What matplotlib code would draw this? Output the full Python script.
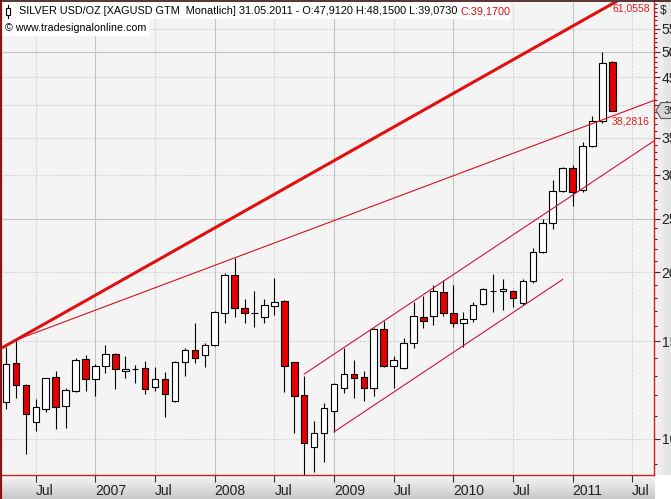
import numpy as np
import pandas as pd
import matplotlib
matplotlib.use('Agg')
import matplotlib.pyplot as plt
from matplotlib.patches import Rectangle, Polygon
from matplotlib.lines import Line2D
from matplotlib.colors import LinearSegmentedColormap
import matplotlib.transforms as mtrans
from matplotlib.ticker import FixedLocator, NullFormatter, FixedFormatter

# ---------------- data ----------------
months = pd.date_range('2006-04-01', periods=62, freq='MS')
opens = [11.66, 13.71, 12.52, 10.73, 11.32, 12.94, 11.47, 12.21, 13.94, 12.83,
         13.54, 14.24, 13.26, 13.38, 13.43, 12.41, 12.83, 11.71, 13.77, 14.48,
         14.18, 14.78, 16.88, 19.76, 17.24, 16.90, 16.60, 17.38, 17.75, 13.77,
         12.01, 9.67, 10.25, 11.23, 12.36, 13.10, 12.94, 12.36, 15.80, 13.54,
         13.43, 14.90, 16.60, 16.67, 18.42, 16.88, 16.20, 16.47, 17.53, 18.50,
         18.50, 18.50, 17.60, 19.28, 21.76, 24.54, 28.04, 30.85, 28.16, 33.81,
         37.50, 47.912]
highs = [14.66, 15.09, 12.57, 11.81, 12.90, 13.26, 12.35, 14.00, 14.18, 13.66,
         14.78, 14.30, 14.12, 13.60, 13.83, 13.49, 13.21, 13.83, 14.60, 16.20,
         14.90, 17.00, 19.95, 21.20, 17.90, 18.50, 17.90, 19.50, 17.80, 13.80,
         12.99, 10.78, 11.62, 12.62, 14.60, 13.89, 13.26, 15.85, 16.33, 14.12,
         15.22, 17.67, 18.12, 18.97, 19.36, 18.97, 16.96, 17.67, 18.73, 19.86,
         19.45, 18.55, 19.45, 22.12, 24.95, 29.35, 30.97, 31.23, 34.37, 38.28,
         49.95, 48.15]
lows = [11.32, 11.86, 9.40, 10.34, 11.19, 10.43, 10.47, 12.16, 12.21, 11.96,
        13.15, 12.31, 12.88, 12.62, 12.06, 12.21, 10.96, 11.66, 12.99, 13.71,
        13.49, 14.70, 16.20, 16.60, 16.20, 15.93, 16.20, 16.74, 12.16, 10.25,
        8.40, 8.72, 9.09, 10.30, 12.11, 11.86, 11.71, 11.98, 13.49, 12.36,
        13.38, 14.60, 15.86, 16.06, 16.67, 15.93, 14.66, 16.26, 17.46, 16.96,
        17.10, 17.31, 17.46, 19.12, 21.67, 23.93, 27.92, 26.34, 27.92, 33.67,
        37.19, 39.073]
closes = [13.66, 12.52, 11.09, 11.42, 12.88, 11.42, 12.26, 13.89, 12.83, 13.54,
          14.24, 13.38, 13.38, 13.40, 12.31, 12.83, 12.06, 13.77, 14.48, 14.00,
          14.78, 16.96, 19.76, 17.24, 16.88, 16.85, 17.46, 17.67, 13.54, 11.96,
          9.83, 10.25, 11.37, 12.57, 13.10, 12.88, 12.36, 15.80, 13.54, 13.89,
          14.90, 16.67, 16.33, 18.50, 16.88, 16.20, 16.47, 17.46, 18.65, 18.52,
          18.65, 17.97, 19.28, 21.76, 24.54, 28.04, 30.85, 27.92, 33.81, 37.50,
          47.72, 39.17]

y_major = [10, 15, 20, 25, 30, 35, 40, 45, 50, 55]
y_solid_grid = [25, 50]

trend_thick = [(1, 15.09), (61, 61.0558)]
trend_thin = [(1, 15.09), (61, 38.2816)]
chan_upper = [(30, 13.10), (61, 30.76)]
chan_lower = [(33, 10.30), (56, 19.41)]
label_thick = "61,0558"
label_thin = "38,2816"

title_head = "SILVER USD/OZ [XAGUSD GTM  Monatlich] 31.05.2011"
copyright_txt = "\u00a9 www.tradesignalonline.com"

# ---------------- layout helpers ----------------
W, H = 671, 499
def fx(x):
    return x / W
def fy(y):
    return 1 - y / H

FONT = ['Liberation Sans', 'DejaVu Sans']
NARROW = ['Liberation Sans Narrow', 'Liberation Sans', 'DejaVu Sans']
RED = '#e50000'

fig = plt.figure(figsize=(W / 100, H / 100), dpi=100)
fig.patch.set_facecolor('white')

# bottom strip gradient
axb = fig.add_axes([0, 0, fx(655), 24 / H])
axb.imshow(np.linspace(0, 1, 60).reshape(-1, 1),
           cmap=LinearSegmentedColormap.from_list('gb', ['#f7f7f7', '#c8c8c8']),
           aspect='auto', extent=[0, 1, 0, 1])
axb.axis('off')
# right strip gradient
axr = fig.add_axes([fx(655), 24 / H, 1 - fx(655), 1 - 24 / H])
axr.imshow(np.linspace(0, 1, 60).reshape(1, -1),
           cmap=LinearSegmentedColormap.from_list('gr', ['#f3f3f3', '#e2e2e2']),
           aspect='auto', extent=[0, 1, 0, 1])
axr.axis('off')

ax = fig.add_axes([fx(2), 24 / H, 652 / W, 473 / H])
ax.set_zorder(3)
ax.set_facecolor('#f4f4f4')
ax.set_yscale('log')
ax.set_ylim(8.61, 61.5)
xmin, xmax = -0.40, 65.19
ax.set_xlim(xmin, xmax)

# grid
all_months = pd.date_range(months[0], periods=67, freq='MS')
xt, xl = [], []
for i, d in enumerate(all_months):
    if xmin <= i <= xmax and d.month in (1, 7):
        xt.append(i)
        xl.append(str(d.year) if d.month == 1 else 'Jul')
for i, lab in zip(xt, xl):
    if lab == 'Jul':
        ax.axvline(i, color='#b4b4b4', lw=0.8, ls=(0, (0.7, 1.6)), zorder=0.5)
    else:
        ax.axvline(i, color='#c4c4c4', lw=0.8, zorder=0.5)
for v in y_major:
    if v in y_solid_grid:
        ax.axhline(v, color='#c4c4c4', lw=0.8, zorder=0.5)
    else:
        ax.axhline(v, color='#b4b4b4', lw=0.8, ls=(0, (0.7, 1.6)), zorder=0.5)

# candles
x = np.arange(len(opens))
o = np.array(opens); hh = np.array(highs); ll = np.array(lows); c = np.array(closes)
ax.vlines(x, ll, hh, color='black', lw=0.8, zorder=2)
bot = np.minimum(o, c)
top = np.maximum(o, c)
cols = np.where(c >= o, 'white', RED)
ax.bar(x, top - bot, bottom=bot, width=0.66, color=cols, edgecolor='black',
       linewidth=0.8, zorder=3)

# trend lines
def line_vals(pts, xs):
    (x0, y0), (x1, y1) = pts
    k = (np.log10(y1) - np.log10(y0)) / (x1 - x0)
    return 10 ** (np.log10(y0) + k * (np.asarray(xs) - x0))

xs = np.array([xmin, xmax])
ax.plot(xs, line_vals(trend_thick, xs), color='#e01010', lw=2.2, zorder=4,
        solid_capstyle='butt')
xs2 = np.array([trend_thin[0][0], xmax])
ax.plot(xs2, line_vals(trend_thin, xs2), color='#d81020', lw=0.8, zorder=4)
xs3 = np.array([chan_upper[0][0], xmax])
ax.plot(xs3, line_vals(chan_upper, xs3), color='#c8143c', lw=0.8, zorder=4)
xs4 = np.array([chan_lower[0][0], chan_lower[1][0]])
ax.plot(xs4, line_vals(chan_lower, xs4), color='#c8143c', lw=0.8, zorder=4)

# value labels of the trend lines at the last bar
lab_x = (650 - 2) / 652
blend = mtrans.blended_transform_factory(ax.transAxes, ax.transData)
ax.text(lab_x, trend_thick[1][1], label_thick, transform=blend, ha='right',
        va='top', color='#d81e1e', fontsize=7.5, family=FONT, zorder=6)
ax.text(lab_x, trend_thin[1][1], label_thin, transform=blend,
        ha='right', va='top', color='#d81e1e', fontsize=7.5, family=FONT, zorder=6)

# axes styling
for s in ['top', 'left']:
    ax.spines[s].set_visible(False)
ax.spines['right'].set_color('#cc1f1f')
ax.spines['bottom'].set_color('#cc1f1f')
ax.spines['right'].set_linewidth(1.0)
ax.spines['bottom'].set_linewidth(1.0)

ax.set_xticks(xt)
ax.set_xticklabels(xl, ha='left', family=NARROW, fontsize=10)
off = mtrans.ScaledTranslation(2 / 100, 0, fig.dpi_scale_trans)
for t in ax.get_xticklabels():
    t.set_transform(t.get_transform() + off)
ax.tick_params(axis='x', direction='out', length=5, width=0.8, color='#303030',
               pad=1.5, labelcolor='#202020')

ax.yaxis.tick_right()
ax.yaxis.set_major_locator(FixedLocator(y_major))
ax.yaxis.set_major_formatter(FixedFormatter([str(v) for v in y_major]))
minors = [v for v in range(9, 62) if v not in y_major]
ax.yaxis.set_minor_locator(FixedLocator(minors))
ax.yaxis.set_minor_formatter(NullFormatter())
ax.tick_params(axis='y', which='major', direction='out', length=4, width=0.8,
               color='#303030', pad=1.5, labelsize=10, labelcolor='#202020')
ax.tick_params(axis='y', which='minor', direction='out', length=2.5, width=0.8,
               color='#303030')
for t in ax.get_yticklabels():
    t.set_family(NARROW)

# frame lines
fig.add_artist(Line2D([fx(1), fx(1)], [0, 1], color='#8a1414', lw=1.6, zorder=20))
fig.add_artist(Line2D([0, 1], [fy(0.5), fy(0.5)], color='#3a1010', lw=1.2, zorder=20))

# title
fig.add_artist(Rectangle((fx(2), fy(19)), fx(510) - fx(2), fy(2) - fy(19),
                         transform=fig.transFigure, facecolor='white',
                         edgecolor='none', zorder=10))
fig.add_artist(Rectangle((fx(2), fy(36)), fx(149) - fx(2), fy(19) - fy(36),
                         transform=fig.transFigure, facecolor='white',
                         edgecolor='none', zorder=10))
# candle glyph
fig.add_artist(Line2D([fx(8), fx(8)], [fy(5), fy(18)], color='black', lw=0.8, zorder=11))
fig.add_artist(Rectangle((fx(6), fy(15)), fx(10) - fx(6), fy(8) - fy(15),
                         transform=fig.transFigure, facecolor='white',
                         edgecolor='black', lw=0.8, zorder=11))

def fmt(v):
    return f"{v:.4f}".replace('.', ',')

t1 = (f"{title_head} - O:{fmt(opens[-1])} H:{fmt(highs[-1])} "
      f"L:{fmt(lows[-1])} ")
t2 = f"C:{fmt(closes[-1])}"
tt1 = fig.text(fx(19), fy(11), t1, fontsize=7.8, family=FONT, color='black',
               va='center', ha='left', zorder=12)
fig.canvas.draw()
r = fig.canvas.get_renderer()
bb = tt1.get_window_extent(r)
fig.text(bb.x1 / W, fy(11), t2, fontsize=7.8, family=FONT, color='#d01010',
         va='center', ha='left', zorder=12)
fig.text(fx(5), fy(28), copyright_txt, fontsize=7.7, family=FONT, color='black',
         va='center', ha='left', zorder=12)

# "$" on axis
fig.text(fx(660), fy(11), '$', fontsize=8.5, family=FONT, color='#202020',
         va='center', ha='left', zorder=12)

# current price marker
yd = ax.transData.transform((0, closes[-1]))[1]
pts = [(656, yd), (661, yd + 8), (672, yd + 8), (672, yd - 8), (661, yd - 8)]
fig.add_artist(Polygon(pts, closed=True, transform=mtrans.IdentityTransform(),
                       facecolor='#d6d6d6', edgecolor='#5a5a5a', lw=0.8, zorder=15))
fig.text(fx(664), yd / H, '39', fontsize=8, family=FONT, color='#202020',
         va='center', ha='left', zorder=16)

fig.savefig('out.png', dpi=100)
